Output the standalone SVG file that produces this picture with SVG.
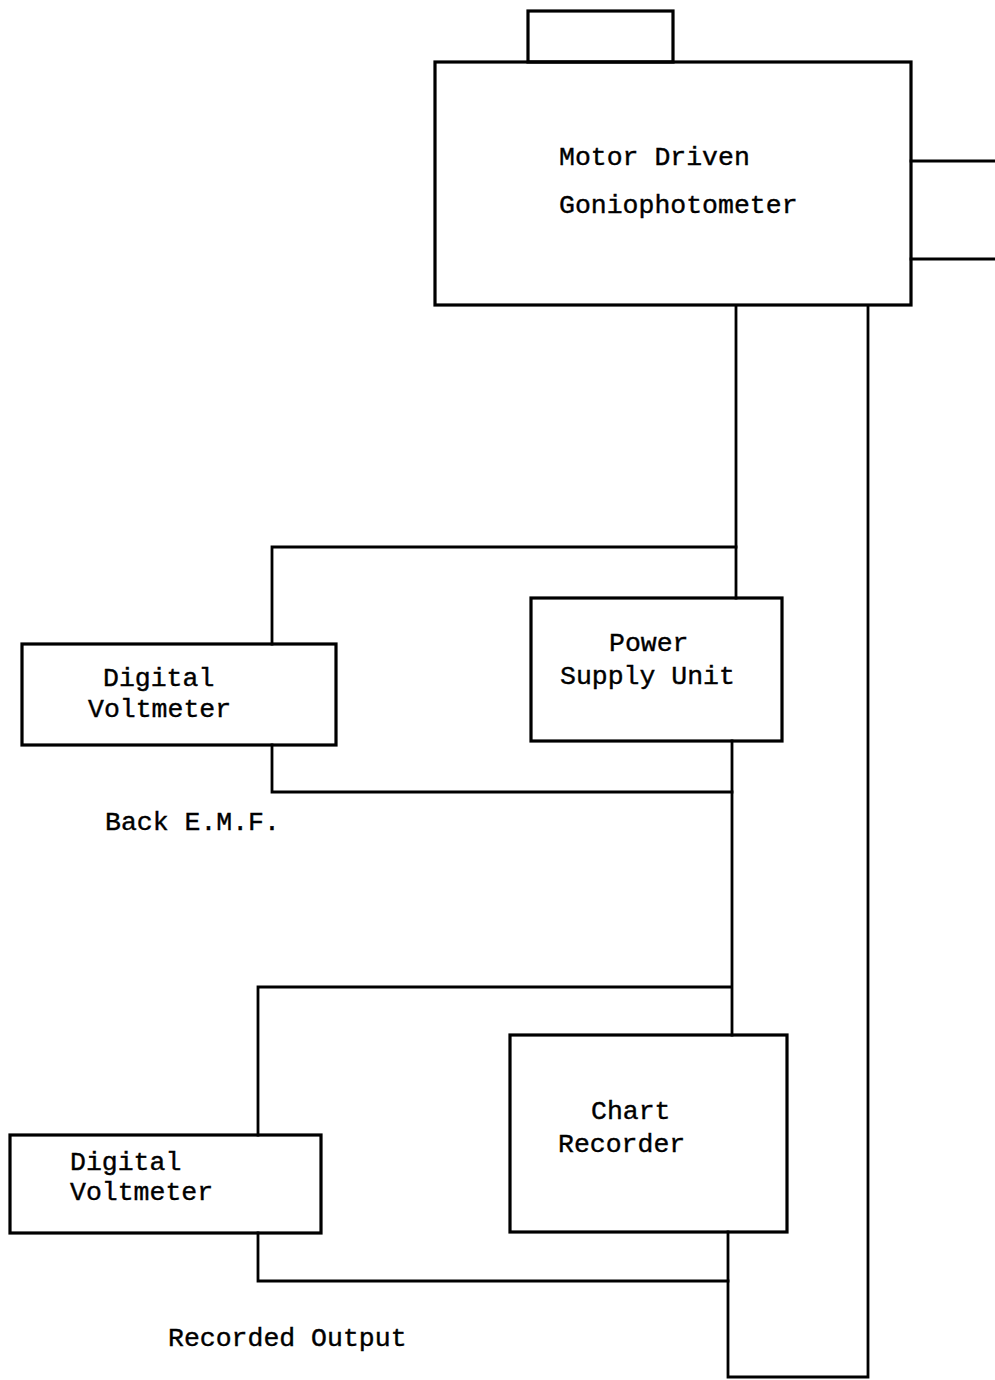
<svg xmlns="http://www.w3.org/2000/svg" width="995" height="1380" viewBox="0 0 995 1380">
<style>
.box{fill:none;stroke:#000;stroke-width:3.2}
.ln{fill:none;stroke:#000;stroke-width:2.8;stroke-linecap:square}
.t{font-family:"Liberation Mono","DejaVu Sans Mono",monospace;font-size:26.5px;fill:#000;stroke:#000;stroke-width:0.4}
</style>
<rect width="995" height="1380" fill="#fff"/>
<g id="connectors">
<polyline class="ln" points="911,161 995,161"/>
<polyline class="ln" points="911,259 995,259"/>
<polyline class="ln" points="736,306 736,598"/>
<polyline class="ln" points="736,547 272,547 272,644"/>
<polyline class="ln" points="272,745 272,792 732,792"/>
<polyline class="ln" points="732,741 732,1035"/>
<polyline class="ln" points="731,987 258,987 258,1135"/>
<polyline class="ln" points="258,1233 258,1281 728,1281"/>
<polyline class="ln" points="728,1232 728,1377 868,1377 868,306"/>
</g>
<g id="goniophotometer">
<rect class="box" x="528" y="11" width="145" height="51"/>
<rect class="box" x="435" y="62" width="476" height="243"/>
<text class="t" x="559" y="165">Motor Driven</text>
<text class="t" x="559" y="213">Goniophotometer</text>
</g>
<g id="dvm1">
<rect class="box" x="22" y="644" width="314" height="101"/>
<text class="t" x="103" y="686">Digital</text>
<text class="t" x="88" y="717">Voltmeter</text>
</g>
<g id="psu">
<rect class="box" x="531" y="598" width="251" height="143"/>
<text class="t" x="609" y="651">Power</text>
<text class="t" x="560" y="684">Supply Unit</text>
</g>
<g id="back-emf">
<text class="t" x="105" y="830">Back E.M.F.</text>
</g>
<g id="dvm2">
<rect class="box" x="10" y="1135" width="311" height="98"/>
<text class="t" x="70" y="1170">Digital</text>
<text class="t" x="70" y="1200">Voltmeter</text>
</g>
<g id="chart-recorder">
<rect class="box" x="510" y="1035" width="277" height="197"/>
<text class="t" x="591" y="1119">Chart</text>
<text class="t" x="558" y="1152">Recorder</text>
</g>
<g id="recorded-output">
<text class="t" x="168" y="1346">Recorded Output</text>
</g>
</svg>
